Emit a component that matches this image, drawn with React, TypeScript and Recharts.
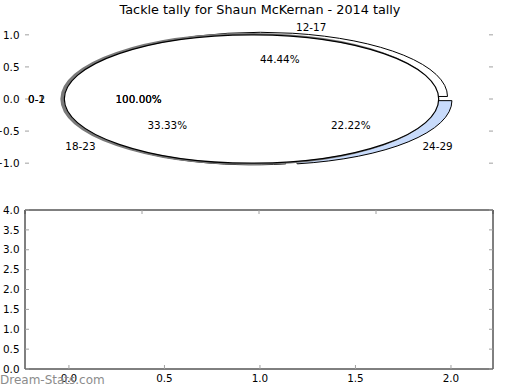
import React from "react";
import { ComposedChart, PieChart, Pie, Cell, Bar, XAxis, YAxis } from "recharts";

// pie: tackles per age bracket, then the two single-slice pies drawn over it
const ageBins = ["12-17", "18-23", "24-29"];
const ageTallies = [4, 3, 2];
const ageFills = ["#ffffff", "#ffffff", "#c8dbfb"];
const overLabels = ["0-1", "0-2"];
const overTallies = [1, 1];

// tick labels
const pieTicks = [-1, -0.5, 0, 0.5, 1];
const barXTicks = [0, 0.5, 1, 1.5, 2];
const barYTicks = [0, 0.5, 1, 1.5, 2, 2.5, 3, 3.5, 4];

// lower panel (empty)
const barPositions = [0, 1, 2];
const barTallies = [0, 0, 0];

const FONT = "'DejaVu Sans', sans-serif";
const TICK_FONT = 10.4;
const ASPECT = 64.17 / 187.2;
const RAD = Math.PI / 180;

const fmt = (v: number) => (v < 0 ? "\u2212" + Math.abs(v).toFixed(1) : v.toFixed(1));

const tickStyle = { fontSize: TICK_FONT, fill: "#000", fontFamily: FONT };
const tickLine = { stroke: "#a0a0a0" };

function wedge(explode: number, stroke = "#000", width = 1) {
  return (p: any) => {
    const rx = p.outerRadius;
    const ry = rx * ASPECT;
    const mid = (p.startAngle + p.endAngle) / 2;
    const ox = p.cx + explode * rx * Math.cos(mid * RAD);
    const oy = p.cy - explode * ry * Math.sin(mid * RAD);
    let d: string;
    if (Math.abs(p.endAngle - p.startAngle) >= 359.99) {
      d = `M${ox + rx},${oy} A${rx},${ry} 0 1 0 ${ox - rx},${oy} A${rx},${ry} 0 1 0 ${ox + rx},${oy} Z`;
    } else {
      const x1 = ox + rx * Math.cos(p.startAngle * RAD);
      const y1 = oy - ry * Math.sin(p.startAngle * RAD);
      const x2 = ox + rx * Math.cos(p.endAngle * RAD);
      const y2 = oy - ry * Math.sin(p.endAngle * RAD);
      const large = p.endAngle - p.startAngle > 180 ? 1 : 0;
      d = `M${ox},${oy} L${x1},${y1} A${rx},${ry} 0 ${large} 0 ${x2},${y2} Z`;
    }
    return <path d={d} fill={p.fill} stroke={stroke} strokeWidth={width} />;
  };
}

function labels(explode: number) {
  return (p: any) => {
    const rx = p.outerRadius;
    const ry = rx * ASPECT;
    const c = Math.cos(p.midAngle * RAD);
    const s = Math.sin(p.midAngle * RAD);
    const name = p.payload?.name ?? p.name;
    const pct = ((p.percent ?? 0) * 100).toFixed(2) + "%";
    const txt = { fontSize: TICK_FONT, fontFamily: FONT, fill: "#000", stroke: "none", dominantBaseline: "central" as const };
    return (
      <g>
        <text x={p.cx + (0.6 + explode) * rx * c} y={p.cy - (0.6 + explode) * ry * s} textAnchor="middle" {...txt}>
          {pct}
        </text>
        <text x={p.cx + (1.1 + explode) * rx * c} y={p.cy - (1.1 + explode) * ry * s} textAnchor={c > 0 ? "start" : "end"} {...txt}>
          {name}
        </text>
      </g>
    );
  };
}

const hidden = () => <g />;

export default function App() {
  const ageData = ageBins.map((name, i) => ({ name, value: ageTallies[i] }));
  const overData = overLabels.map((name, i) => [{ name, value: overTallies[i] }]);
  const barData = barPositions.map((x, i) => ({ x, tally: barTallies[i] }));
  // the stacked outlines give the thick grey rim on the left
  const overShapes = [wedge(0.052, "#7a7a7a", 3.5), wedge(0.04, "#000", 1.2)];
  const pieProps = {
    dataKey: "value",
    nameKey: "name",
    cx: 259,
    cy: 99,
    outerRadius: 187.2,
    startAngle: 0,
    endAngle: 360,
    isAnimationActive: false,
    labelLine: false,
  };

  return (
    <div style={{ position: "absolute", left: 0, top: 0, width: 520, height: 390, background: "#fff", fontFamily: FONT }}>
      <div style={{ position: "absolute", left: 0, top: 3, width: 520, textAlign: "center", fontSize: 12.8, lineHeight: "14px" }}>
        Tackle tally for Shaun McKernan - 2014 tally
      </div>

      {/* top axes: ticks only, no frame */}
      <div style={{ position: "absolute", left: 0, top: 0 }}>
        <ComposedChart width={520} height={195} data={[]} margin={{ top: 21, right: 26, bottom: 0, left: 0 }}>
          <XAxis xAxisId="b" type="number" domain={[-1.25, 1.25]} allowDataOverflow ticks={pieTicks} tickFormatter={fmt}
            height={19} axisLine={false} tickSize={-4} tickMargin={10} tick={tickStyle} tickLine={tickLine} interval={0} />
          <XAxis xAxisId="t" orientation="top" type="number" domain={[-1.25, 1.25]} allowDataOverflow ticks={pieTicks}
            tickFormatter={() => ""} height={1} axisLine={false} tickSize={-4} tickLine={tickLine} interval={0} />
          <YAxis yAxisId="l" type="number" domain={[-1.2, 1.2]} allowDataOverflow ticks={pieTicks} tickFormatter={fmt}
            width={25} axisLine={false} tickSize={-4} tickMargin={9.5} tick={tickStyle} tickLine={tickLine} interval={0} />
          <YAxis yAxisId="r" orientation="right" type="number" domain={[-1.2, 1.2]} allowDataOverflow ticks={pieTicks}
            tickFormatter={() => ""} width={1} axisLine={false} tickSize={-4} tickLine={tickLine} interval={0} />
        </ComposedChart>
      </div>

      {/* elliptical pie */}
      <div style={{ position: "absolute", left: 0, top: 0 }}>
        <PieChart width={520} height={195} margin={{ top: 0, right: 0, bottom: 0, left: 0 }}>
          <Pie {...pieProps} data={ageData} shape={wedge(0.04)} stroke="#000">
            {ageData.map((d, i) => (
              <Cell key={d.name} fill={ageFills[i]} />
            ))}
          </Pie>
          {overData.map((d, k) => (
            <Pie key={"o" + k} {...pieProps} data={d} shape={overShapes[k]} fill="#ffffff" stroke="#000" />
          ))}
          <Pie {...pieProps} data={ageData} shape={hidden} fill="none" stroke="none" label={labels(0.04)} />
          {overData.map((d, k) => (
            <Pie key={"ol" + k} {...pieProps} data={d} shape={hidden} fill="none" stroke="none" label={labels(0.043)} />
          ))}
        </PieChart>
      </div>

      {/* lower panel */}
      <div style={{ position: "absolute", left: 0, top: 195 }}>
        <ComposedChart width={520} height={195} data={barData} margin={{ top: 14, right: 26, bottom: 2, left: 0 }}>
          <XAxis xAxisId="b" dataKey="x" type="number" domain={[-0.23, 2.22]} allowDataOverflow ticks={barXTicks} tickFormatter={fmt}
            height={19} axisLine={{ stroke: "#000" }} tickSize={-4} tickMargin={10} tick={tickStyle} tickLine={tickLine} interval={0} />
          <XAxis xAxisId="t" orientation="top" type="number" domain={[-0.23, 2.22]} allowDataOverflow ticks={barXTicks}
            tickFormatter={() => ""} height={1} axisLine={{ stroke: "#000" }} tickSize={-4} tickLine={tickLine} interval={0} />
          <YAxis yAxisId="l" type="number" domain={[0, 4]} allowDataOverflow ticks={barYTicks} tickFormatter={fmt}
            width={25} axisLine={{ stroke: "#000" }} tickSize={-4} tickMargin={9.5} tick={tickStyle} tickLine={tickLine} interval={0} />
          <YAxis yAxisId="r" orientation="right" type="number" domain={[0, 4]} allowDataOverflow ticks={barYTicks}
            tickFormatter={() => ""} width={1} axisLine={{ stroke: "#000" }} tickSize={-4} tickLine={tickLine} interval={0} />
          <Bar xAxisId="b" yAxisId="l" dataKey="tally" barSize={150} fill="#c8dbfb" stroke="#000" isAnimationActive={false} />
        </ComposedChart>
      </div>

      <div style={{ position: "absolute", left: 0, top: 373, fontSize: 12, color: "#8c8c8c", lineHeight: "14px" }}>Dream-Stats.com</div>
    </div>
  );
}
